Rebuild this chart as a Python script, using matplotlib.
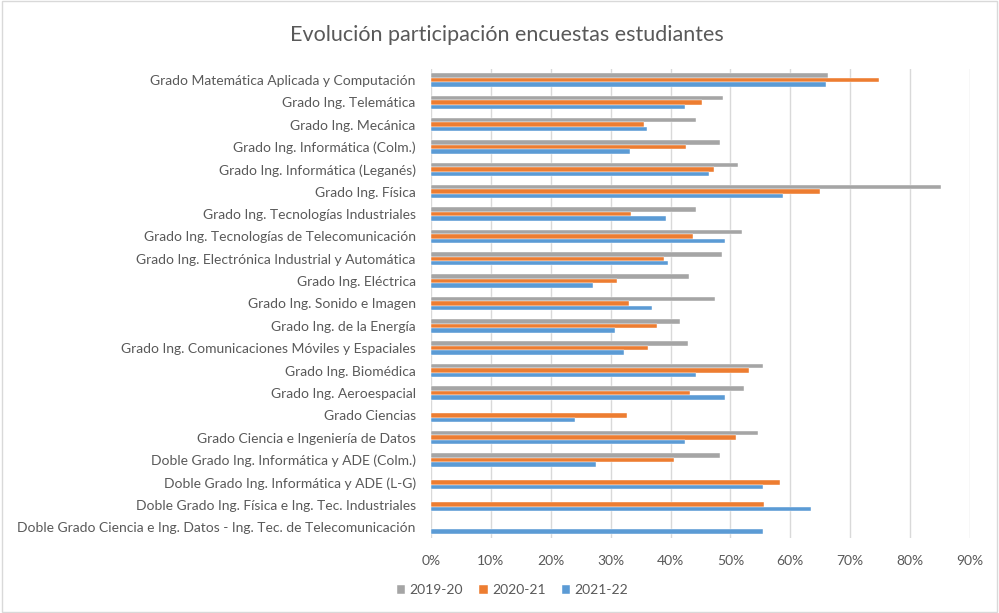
import matplotlib.pyplot as plt
import numpy as np
from matplotlib.patches import Rectangle

plt.rcParams["font.family"] = ["Lato", "DejaVu Sans"]

categories = [
    "Grado Matemática Aplicada y Computación",
    "Grado Ing. Telemática",
    "Grado Ing. Mecánica",
    "Grado Ing. Informática (Colm.)",
    "Grado Ing. Informática (Leganés)",
    "Grado Ing. Física",
    "Grado Ing. Tecnologías Industriales",
    "Grado Ing. Tecnologías de Telecomunicación",
    "Grado Ing. Electrónica Industrial y Automática",
    "Grado Ing. Eléctrica",
    "Grado Ing. Sonido e Imagen",
    "Grado Ing. de la Energía",
    "Grado Ing. Comunicaciones Móviles y Espaciales",
    "Grado Ing. Biomédica",
    "Grado Ing. Aeroespacial",
    "Grado Ciencias",
    "Grado Ciencia e Ingeniería de Datos",
    "Doble Grado Ing. Informática y ADE (Colm.)",
    "Doble Grado Ing. Informática y ADE (L-G)",
    "Doble Grado Ing. Física e Ing. Tec. Industriales",
    "Doble Grado Ciencia e Ing. Datos - Ing. Tec. de Telecomunicación",
]

s2019 = [66.3, 48.8, 44.2, 48.2, 51.2, 85.2, 44.2, 52.0, 48.6, 43.0, 47.5,
         41.5, 42.9, 55.5, 52.3, np.nan, 54.6, 48.2, np.nan, np.nan, np.nan]
s2020 = [74.8, 45.3, 35.5, 42.5, 47.2, 65.0, 33.4, 43.8, 38.9, 31.1, 33.0,
         37.8, 36.2, 53.1, 43.2, 32.8, 50.9, 40.5, 58.3, 55.6, np.nan]
s2021 = [66.0, 42.4, 36.0, 33.3, 46.5, 58.8, 39.2, 49.1, 39.5, 27.0, 36.9,
         30.8, 32.3, 44.2, 49.1, 24.0, 42.4, 27.5, 55.5, 63.4, 55.5]

series = [("2019-20", s2019, "#A5A5A5"),
          ("2020-21", s2020, "#ED7D31"),
          ("2021-22", s2021, "#5B9BD5")]

text_color = "#595959"

fig = plt.figure(figsize=(9.99, 6.13), dpi=100)
fig.patches.append(Rectangle((0.002, 0.002), 0.996, 0.996, transform=fig.transFigure,
                             fill=False, edgecolor="#D9D9D9", linewidth=1))
ax = fig.add_axes([0.4314, 0.122, 0.5396, 0.7658])

y = np.arange(len(categories))
h = 0.2
for i, (name, vals, color) in enumerate(series):
    v = np.array(vals) / 100
    ax.barh(y + (i - 1) * h, v, height=h, color=color, label=name,
            edgecolor="white", linewidth=0.3)

ax.set_ylim(len(categories) - 0.5, -0.5)
ax.set_xlim(0, 0.9)
ax.set_xticks(np.arange(0, 0.91, 0.1))
ax.set_xticklabels([f"{int(round(t * 100))}%" for t in np.arange(0, 0.91, 0.1)])
ax.set_yticks(y)
ax.set_yticklabels(categories)
ax.tick_params(axis="both", length=0, colors=text_color, labelsize=10)
ax.tick_params(axis="y", pad=11)
ax.tick_params(axis="x", pad=12)
ax.grid(axis="x", color="#D9D9D9", linewidth=1)
ax.set_axisbelow(True)
for sp in ax.spines.values():
    sp.set_visible(False)

fig.text(0.507, 0.943, "Evolución participación encuestas estudiantes",
         ha="center", va="center", fontsize=15.5, color=text_color)

handles, labels = ax.get_legend_handles_labels()
fig.legend(handles, labels, loc="center", bbox_to_anchor=(0.513, 0.037), ncol=3,
           frameon=False, fontsize=10, labelcolor=text_color, handlelength=0.6,
           handleheight=0.6, handletextpad=0.3, columnspacing=1.2)

fig.savefig("out.png", dpi=100)
